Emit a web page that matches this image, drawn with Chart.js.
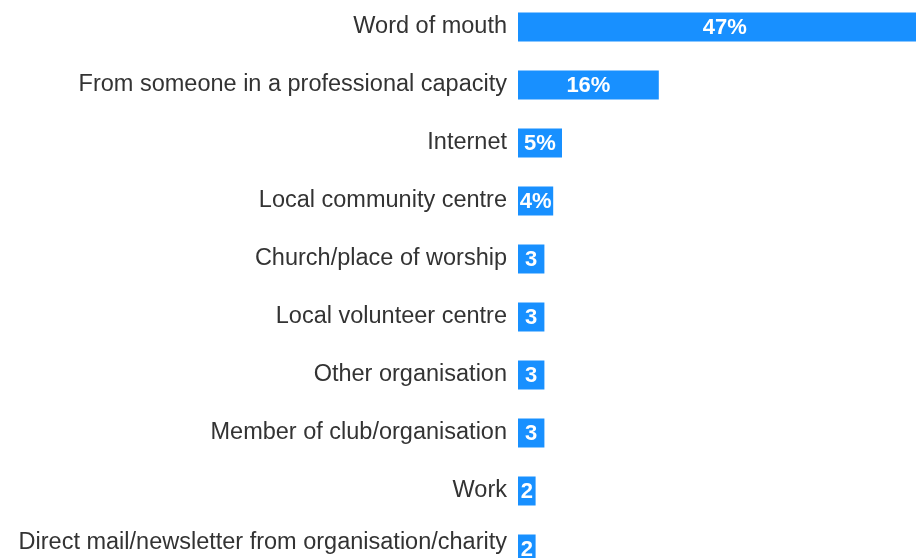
<!DOCTYPE html>
<html>
<head>
<meta charset="utf-8">
<script src="https://cdn.jsdelivr.net/npm/chart.js@4/dist/chart.umd.min.js"></script>
<style>
  html, body { margin: 0; padding: 0; background: #fff; overflow: hidden; width: 916px; height: 558px; }
  #chart { position: absolute; left: 0; top: -2px; }
</style>
</head>
<body>
<canvas id="chart" width="958" height="580"></canvas>
<script>
const categories = [
    'Word of mouth',
    'From someone in a professional capacity',
    'Internet',
    'Local community centre',
    'Church/place of worship',
    'Local volunteer centre',
    'Other organisation',
    'Member of club/organisation',
    'Work',
    'Direct mail/newsletter from organisation/charity'
];
const values = [47, 16, 5, 4, 3, 3, 3, 3, 2, 2];
const valueLabels = ['47%', '16%', '5%', '4%', '3', '3', '3', '3', '2', '2'];

const fontFamily = 'Arial, "Liberation Sans", Helvetica, sans-serif';

// category names left of the axis, kept inside the visible page
const categoryLabels = {
    id: 'categoryLabels',
    afterDraw(chart) {
        const ctx = chart.ctx;
        const yScale = chart.scales.y;
        ctx.save();
        ctx.fillStyle = '#333333';
        ctx.font = '23.5px ' + fontFamily;
        ctx.textAlign = 'right';
        ctx.textBaseline = 'middle';
        categories.forEach((name, i) => {
            const y = Math.min(yScale.getPixelForValue(i), 545);
            ctx.fillText(name, yScale.right - 11, y);
        });
        ctx.restore();
    }
};

// white value text in the middle of each bar
const barLabels = {
    id: 'barLabels',
    afterDatasetsDraw(chart) {
        const ctx = chart.ctx;
        const meta = chart.getDatasetMeta(0);
        ctx.save();
        ctx.fillStyle = '#ffffff';
        ctx.font = 'bold 22px ' + fontFamily;
        ctx.textAlign = 'center';
        ctx.textBaseline = 'middle';
        meta.data.forEach((bar, i) => {
            ctx.fillText(valueLabels[i], (bar.base + bar.x) / 2, bar.y + 1);
        });
        ctx.restore();
    }
};

new Chart(document.getElementById('chart').getContext('2d'), {
    type: 'bar',
    data: {
        labels: categories,
        datasets: [{
            data: values,
            backgroundColor: '#1890ff',
            borderWidth: 0,
            barPercentage: 0.5,
            categoryPercentage: 1
        }]
    },
    options: {
        indexAxis: 'y',
        responsive: false,
        animation: false,
        layout: { padding: 0 },
        plugins: {
            legend: { display: false },
            tooltip: { enabled: false }
        },
        scales: {
            x: {
                display: false,
                min: 0,
                max: 50
            },
            y: {
                afterFit(scale) {
                    scale.width = 518;
                    scale.paddingTop = 0;
                    scale.paddingBottom = 0;
                },
                grid: { display: false, drawTicks: false },
                border: { display: false },
                ticks: { display: false }
            }
        }
    },
    plugins: [categoryLabels, barLabels]
});
</script>
</body>
</html>
